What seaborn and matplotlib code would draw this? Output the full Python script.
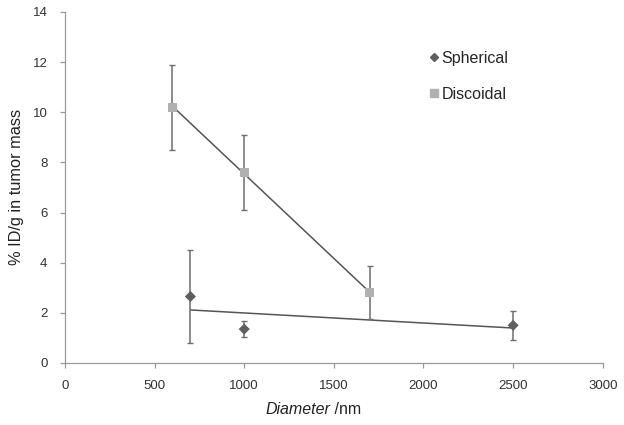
import numpy as np
import pandas as pd
import matplotlib
matplotlib.use("Agg")
import matplotlib.pyplot as plt
import seaborn as sns
from matplotlib.lines import Line2D

# data
sph_diam = [700, 1000, 2500]
sph_val = [2.65, 1.35, 1.5]
sph_err = [1.85, 0.33, 0.57]

disc_diam = [600, 1000, 1700]
disc_val = [10.2, 7.6, 2.8]
disc_err = [1.7, 1.5, 1.05]

sns.set_style("ticks")
plt.rcParams['font.family'] = ['Liberation Sans', 'DejaVu Sans']

sph = pd.DataFrame({"diameter": sph_diam, "value": sph_val})
disc = pd.DataFrame({"diameter": disc_diam, "value": disc_val})

fig = plt.figure(figsize=(6.24, 4.25), dpi=100)
ax = fig.add_axes([0.104, 0.146, 0.862, 0.826])

dark = "#5f5f5f"
light = "#b0b0b0"
errc = "#6e6e6e"

# linear trend lines
sns.regplot(data=sph, x="diameter", y="value", scatter=False, ci=None, truncate=True,
            line_kws=dict(color="#555555", lw=1.1), ax=ax)
sns.regplot(data=disc, x="diameter", y="value", scatter=False, ci=None, truncate=True,
            line_kws=dict(color="#555555", lw=1.1), ax=ax)

# error bars
ax.errorbar(sph_diam, sph_val, yerr=sph_err, fmt="none", ecolor=errc, elinewidth=1.1,
            capsize=2.5, capthick=1)
ax.errorbar(disc_diam, disc_val, yerr=disc_err, fmt="none", ecolor=errc, elinewidth=1.1,
            capsize=2.5, capthick=1)

# markers
sns.scatterplot(data=sph, x="diameter", y="value", marker="D", s=32, color=dark,
                edgecolor="none", ax=ax, zorder=5)
sns.scatterplot(data=disc, x="diameter", y="value", marker="s", s=45, color=light,
                edgecolor="none", ax=ax, zorder=5)

ax.set_xlim(0, 3000)
ax.set_ylim(0, 14)
ax.set_xticks(range(0, 3001, 500))
ax.set_yticks(range(0, 15, 2))

for s in ["top", "right"]:
    ax.spines[s].set_visible(False)
for s in ["left", "bottom"]:
    ax.spines[s].set_color("#9a9a9a")
    ax.spines[s].set_linewidth(0.9)
ax.tick_params(colors="#9a9a9a", labelcolor="#333333", labelsize=9.5, length=3.5, width=0.9)
ax.tick_params(axis="x", pad=9)
ax.tick_params(axis="y", pad=9)

ax.set_xlabel("")
ax.set_ylabel("% ID/g in tumor mass", fontsize=11.8, color="#222222", labelpad=6)
fig.text(0.529, 0.018, "Diameter", fontsize=11.5, fontstyle="italic", ha="right",
         va="bottom", color="#222222")
fig.text(0.529, 0.018, " /nm", fontsize=11.5, ha="left", va="bottom", color="#222222")

handles = [
    Line2D([], [], marker="D", ls="none", color=dark, markersize=4),
    Line2D([], [], marker="s", ls="none", color=light, markersize=5.5),
]
ax.legend(handles, ["Spherical", "Discoidal"], loc="upper left",
          bbox_to_anchor=(0.65, 0.93), frameon=False, fontsize=11.5,
          handlelength=0.6, handletextpad=0.2, labelspacing=1.3)

fig.savefig("out.png", dpi=100)
